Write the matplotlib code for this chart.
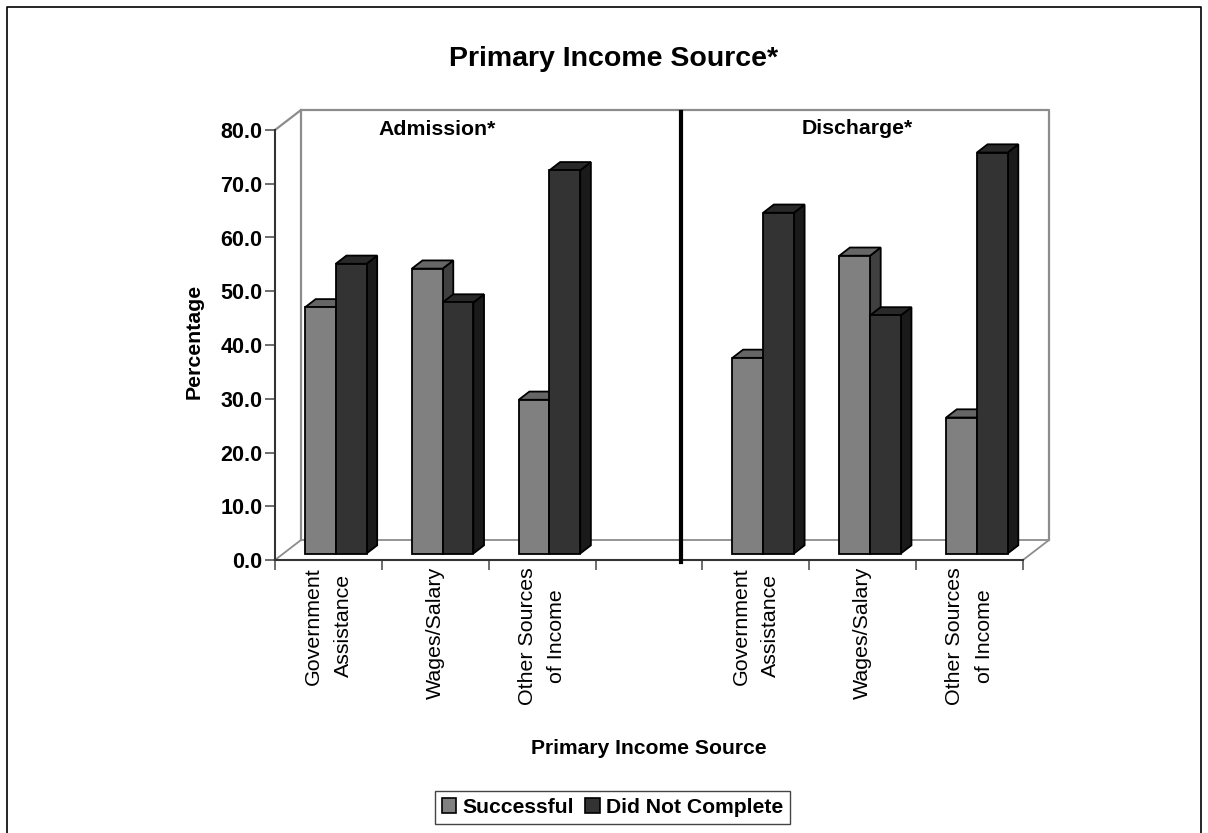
import matplotlib
matplotlib.use("Agg")
import matplotlib.pyplot as plt
from matplotlib.lines import Line2D
from matplotlib.patches import Patch, Polygon

plt.rcParams['font.family'] = ['Liberation Sans', 'DejaVu Sans']

W, H = 1208, 833

categories = ['Government\nAssistance', 'Wages/Salary', 'Other Sources\nof Income', '',
              'Government\nAssistance', 'Wages/Salary', 'Other Sources\nof Income']
positions = [0, 1, 2, 4, 5, 6]
successful = [45.8, 53.0, 28.6, 36.4, 55.4, 25.3]
did_not_complete = [53.9, 46.7, 71.3, 63.4, 44.3, 74.6]
yticks = [0, 10, 20, 30, 40, 50, 60, 70, 80]

# colours: front, top, side
succ_cols = ('#808080', '#666666', '#404040')
dnc_cols = ('#333333', '#292929', '#1a1a1a')

fig = plt.figure(figsize=(W / 100, H / 100), dpi=100)
ax = fig.add_axes([275 / W, 1 - 560 / H, (1023 - 275) / W, (560 - 130) / H])
ax.set_xlim(0, 7)
ax.set_ylim(0, 80)
ax.patch.set_visible(False)

# chart depth, in data units
DX = 26 / (748 / 7)
DY = 20 / (430 / 80)


def proj(x, y, d):
    return (x + d * DX, y + d * DY)


def bar3d(x, width, value, cols):
    d0, d1 = 0.325, 0.735
    front = [proj(x, 0, d0), proj(x + width, 0, d0), proj(x + width, value, d0), proj(x, value, d0)]
    top = [proj(x, value, d0), proj(x + width, value, d0), proj(x + width, value, d1), proj(x, value, d1)]
    side = [proj(x + width, 0, d0), proj(x + width, 0, d1), proj(x + width, value, d1), proj(x + width, value, d0)]
    for pts, c in zip((side, top, front), (cols[2], cols[1], cols[0])):
        ax.add_patch(Polygon(pts, closed=True, facecolor=c, edgecolor='black', linewidth=1.3,
                             joinstyle='miter', clip_on=False, zorder=3))


# back wall and floor
wall = '#8c8c8c'
ax.plot(*zip(proj(0, 0, 0), proj(0, 0, 1), proj(7, 0, 1), proj(7, 0, 0)), color=wall, lw=1.3, clip_on=False, zorder=1)
ax.plot(*zip(proj(0, 80, 0), proj(0, 80, 1), proj(7, 80, 1), proj(7, 0, 1)), color=wall, lw=1.6, clip_on=False, zorder=1)
ax.plot(*zip(proj(0, 0, 1), proj(0, 80, 1)), color=wall, lw=1.6, clip_on=False, zorder=1)

bar_w = 0.2878
for p, s, d in zip(positions, successful, did_not_complete):
    bar3d(p + 0.2017, bar_w, s, succ_cols)
    bar3d(p + 0.2017 + bar_w, bar_w, d, dnc_cols)

# divider between admission and discharge
fig.add_artist(Line2D([680.5 / W, 680.5 / W], [1 - 112 / H, 1 - 562 / H], color='black', lw=3.0, zorder=5))

for s in ('top', 'right'):
    ax.spines[s].set_visible(False)
for s in ('left', 'bottom'):
    ax.spines[s].set_color('#333333')
    ax.spines[s].set_linewidth(1.5)

ax.set_yticks(yticks)
ax.set_yticklabels([f'{v:.1f}' for v in yticks], fontsize=15.5, fontweight='bold')
ax.tick_params(axis='y', length=7, width=1.2, color='#555555', pad=2)
ax.set_xticks(range(8))
ax.set_xticklabels([])
ax.tick_params(axis='x', length=7, width=1.2, color='#555555')

for i, label in enumerate(categories):
    if label:
        ax.annotate(label, xy=(i + 0.5, 0), xycoords=('data', 'data'), xytext=(0, -7), textcoords='offset pixels',
                    rotation=90, ha='center', va='top', ma='center', fontsize=15.4, linespacing=1.68,
                    annotation_clip=False)

fig.text(614 / W, 1 - 65.5 / H, 'Primary Income Source*', ha='center', va='baseline', fontsize=20.5, fontweight='bold')
fig.text(437 / W, 1 - 135 / H, 'Admission*', ha='center', va='baseline', fontsize=15.3, fontweight='bold')
fig.text(857 / W, 1 - 134.5 / H, 'Discharge*', ha='center', va='baseline', fontsize=15.3, fontweight='bold')
fig.text(649 / W, 1 - 754 / H, 'Primary Income Source', ha='center', va='baseline', fontsize=15.2, fontweight='bold')
fig.text(194 / W, 1 - 341.5 / H, 'Percentage', ha='center', va='center', rotation=90, fontsize=15.3, fontweight='bold')

handles = [Patch(facecolor=succ_cols[0], edgecolor='black', linewidth=1.2),
           Patch(facecolor=dnc_cols[0], edgecolor='black', linewidth=1.2)]
fig.legend(handles, ['Successful', 'Did Not Complete'], ncol=2, loc='center', bbox_to_anchor=(612.5 / W, 1 - 807.5 / H),
           frameon=True, fancybox=False, framealpha=1, edgecolor='#444444',
           handlelength=0.68, handleheight=0.68, handletextpad=0.3, columnspacing=0.54, borderpad=0.33,
           prop={'weight': 'bold', 'size': 15.2})

# outer frame, open at the bottom of the image
fig.add_artist(Line2D([7 / W, 7 / W, 1201 / W, 1201 / W], [0, 1 - 7 / H, 1 - 7 / H, 0], color='black', lw=1.2))

fig.savefig('out.png', dpi=100)
